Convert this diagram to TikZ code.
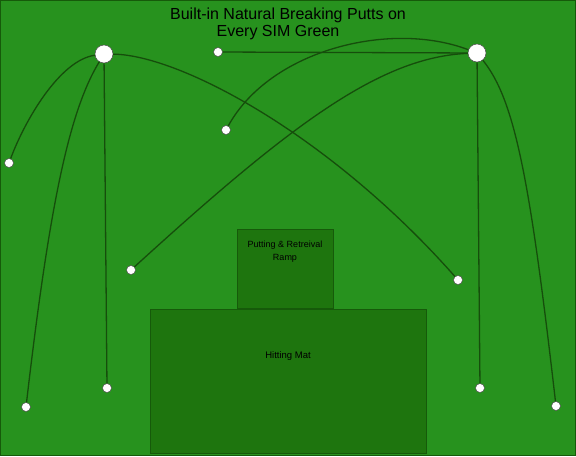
\documentclass[tikz,border=0pt]{standalone}
\usepackage{fontspec}
\setmainfont{Liberation Sans}
\definecolor{gazon}{RGB}{39,146,30}
\definecolor{tapis}{RGB}{30,117,14}
\definecolor{bord}{RGB}{22,90,10}
\definecolor{trait}{RGB}{22,78,12}

\begin{document}
\begin{tikzpicture}[x=1pt, y=-1pt]
\tikzset{trou/.style={draw=black!70, fill=white, circle, inner sep=0pt, minimum size=18pt, line width=0.5pt},
  balle/.style={draw=black!70, fill=white, circle, inner sep=0pt, minimum size=9pt, line width=0.5pt},
  putt/.style={draw=trait, line width=1.3pt},
  zone/.style={draw=bord, fill=tapis, line width=1pt}}
\fill[gazon] (0,0) rectangle (576,456);
\draw[bord, line width=1.2pt] (0.6,0.6) rectangle (575.4,455.4);
\node (T1) at (288,15) {\fontsize{16}{19}\selectfont Built-in Natural Breaking Putts on};
\node (T2) at (278,33) {\fontsize{16}{19}\selectfont Every SIM Green};
% zones
\draw[zone] (237,229) rectangle (333,308);
\draw[zone] (150,309) rectangle (426,453);
\node[align=center, font=\fontsize{9}{13}\selectfont] (rampe) at (285,252) {Putting \& Retreival\\Ramp};
\node[font=\fontsize{9.5}{11}\selectfont] (mat) at (288,356) {Hitting Mat};
% trous et balles
\node[trou] (H1) at (104,54) {};
\node[trou] (H2) at (477,53) {};
\node[balle] (B1) at (218,52) {};
\node[balle] (B2) at (226,130) {};
\node[balle] (B3) at (131,270) {};
\node[balle] (B4) at (458,280) {};
\node[balle] (B5) at (9,163) {};
\node[balle] (B6) at (26,407) {};
\node[balle] (B7) at (107,388) {};
\node[balle] (B8) at (480,388) {};
\node[balle] (B9) at (556,406) {};
\draw[putt] (H1) .. controls (60,60) and (25,120) .. (B5);
\draw[putt] (H1) .. controls (70,110) and (50,200) .. (B6);
\draw[putt] (H1) -- (B7);
\draw[putt] (H1) .. controls (180,55) and (330,135) .. (B4);
\draw[putt] (H2) -- (B1);
\draw[putt] (H2) .. controls (390,20) and (270,50) .. (B2);
\draw[putt] (H2) .. controls (380,57) and (290,125) .. (B3);
\draw[putt] (H2) -- (B8);
\draw[putt] (H2) .. controls (515,100) and (530,180) .. (B9);
\end{tikzpicture}
\end{document}
